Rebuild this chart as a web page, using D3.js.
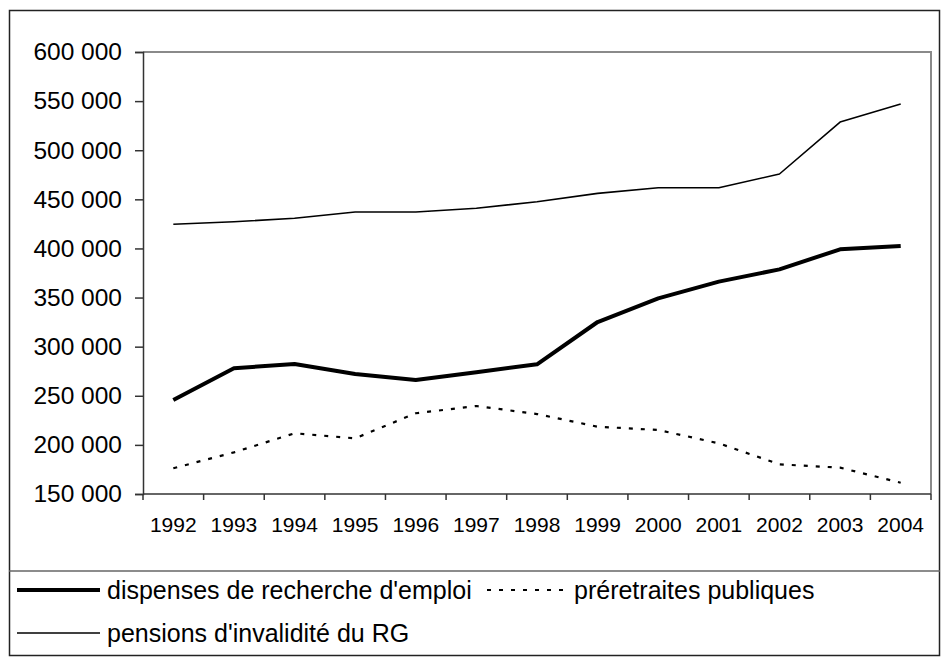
<!DOCTYPE html>
<html>
<head>
<meta charset="utf-8">
<script src="https://cdn.jsdelivr.net/npm/d3@7"></script>
<style>
    body { margin: 0; background: #fff; }
    svg { display: block; font-family: "Liberation Sans", Arial, sans-serif; }
</style>
</head>
<body>
<script>

// data
var years = ["1992", "1993", "1994", "1995", "1996", "1997", "1998",
             "1999", "2000", "2001", "2002", "2003", "2004"];

var dispenses = [245700, 278000, 282400, 272200, 266000, 274000, 282000,
                 325100, 349200, 366200, 378700, 399100, 402500];

var preretraites = [176200, 192400, 211800, 206700, 232200, 239600, 231400,
                    218500, 215200, 201600, 180200, 176800, 161500];

var pensions = [424600, 427200, 430700, 437100, 437100, 440900, 447600,
                456100, 461800, 461800, 475800, 528700, 547000];

var yTicks = [150000, 200000, 250000, 300000, 350000, 400000, 450000, 500000, 550000, 600000];

var seriesNames = ["dispenses de recherche d'emploi", "préretraites publiques",
                   "pensions d'invalidité du RG"];

window.onload = function() {

    const W = 941, H = 657;
    const plot = {left: 143, right: 931, top: 52, bottom: 494};

    var svg = d3.select("body").append("svg")
        .attr("width", W)
        .attr("height", H);

    // outer frame + legend separator
    svg.append("rect")
        .attr("x", 9.5).attr("y", 10.5)
        .attr("width", 930).attr("height", 645)
        .attr("fill", "none").attr("stroke", "#222").attr("stroke-width", 1.5);
    svg.append("line")
        .attr("x1", 9).attr("x2", 940).attr("y1", 571).attr("y2", 571)
        .attr("stroke", "#666").attr("stroke-width", 1.5);

    var xScale = d3.scaleBand().domain(years).range([plot.left, plot.right]);
    var yScale = d3.scaleLinear().domain([150000, 600000]).range([plot.bottom, plot.top]);

    // grey top/right border of the plot area
    svg.append("path")
        .attr("d", "M" + plot.left + "," + plot.top + "H" + plot.right + "V" + plot.bottom)
        .attr("fill", "none").attr("stroke", "#8a8a8a").attr("stroke-width", 2);

    var fmt = function(d) { return d3.format(",")(d).replace(/,/g, " "); };

    // y axis
    var yAxis = svg.append("g")
        .attr("transform", "translate(" + plot.left + ",0)")
        .call(d3.axisLeft(yScale).tickValues(yTicks).tickFormat(fmt).tickSize(8).tickPadding(13));
    yAxis.select(".domain").attr("stroke", "#333").attr("stroke-width", 1.5);
    yAxis.selectAll(".tick line").attr("stroke", "#333").attr("stroke-width", 1.5);
    yAxis.selectAll("text")
        .attr("font-size", 24.5)
        .attr("fill", "#000");

    // x axis, ticks between categories
    var xAxis = svg.append("g")
        .attr("transform", "translate(0," + plot.bottom + ")");
    xAxis.append("line")
        .attr("x1", plot.left).attr("x2", plot.right)
        .attr("stroke", "#333").attr("stroke-width", 1.5);
    var bounds = years.map(function(d) { return xScale(d); }).concat([plot.right]);
    xAxis.selectAll(".xt")
        .data(bounds)
        .enter().append("line")
        .attr("x1", function(d) { return d; })
        .attr("x2", function(d) { return d; })
        .attr("y1", 0).attr("y2", 6)
        .attr("stroke", "#333").attr("stroke-width", 1.5);
    xAxis.selectAll(".xl")
        .data(years)
        .enter().append("text")
        .attr("x", function(d) { return xScale(d) + xScale.bandwidth() / 2; })
        .attr("y", 38)
        .attr("text-anchor", "middle")
        .attr("font-size", 21)
        .text(function(d) { return d; });

    var line = d3.line()
        .x(function(d, i) { return xScale(years[i]) + xScale.bandwidth() / 2; })
        .y(function(d) { return yScale(d); });

    var styles = [
        {data: dispenses, width: 4, dash: null},
        {data: preretraites, width: 2.2, dash: "4,8"},
        {data: pensions, width: 1.6, dash: null}
    ];

    svg.append("g").selectAll("path")
        .data(styles)
        .enter().append("path")
        .attr("d", function(s) { return line(s.data); })
        .attr("fill", "none")
        .attr("stroke", "#000")
        .attr("stroke-width", function(s) { return s.width; })
        .attr("stroke-dasharray", function(s) { return s.dash; })
        .attr("stroke-linejoin", "round");

    // legend
    var legendPos = [
        {x1: 17, x2: 100, tx: 107, y: 590},
        {x1: 487, x2: 565, tx: 574, y: 590},
        {x1: 17, x2: 100, tx: 107, y: 633}
    ];

    var leg = svg.append("g").selectAll("g")
        .data(styles)
        .enter().append("g");
    leg.append("line")
        .attr("x1", function(s, i) { return legendPos[i].x1; })
        .attr("x2", function(s, i) { return legendPos[i].x2; })
        .attr("y1", function(s, i) { return legendPos[i].y; })
        .attr("y2", function(s, i) { return legendPos[i].y; })
        .attr("stroke", "#000")
        .attr("stroke-width", function(s) { return s.width; })
        .attr("stroke-dasharray", function(s) { return s.dash; });
    leg.append("text")
        .attr("x", function(s, i) { return legendPos[i].tx; })
        .attr("y", function(s, i) { return legendPos[i].y + 9; })
        .attr("font-size", 25)
        .text(function(s, i) { return seriesNames[i]; });
};
</script>
</body>
</html>
